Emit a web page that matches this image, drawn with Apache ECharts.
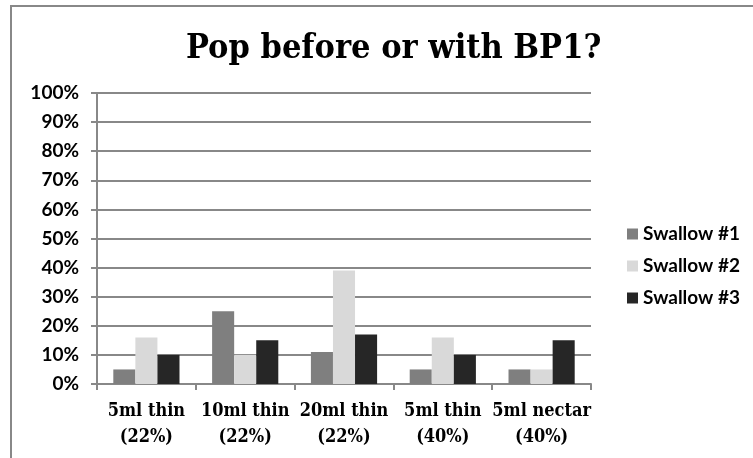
<!DOCTYPE html>
<html><head><meta charset="utf-8">
<script src="https://cdn.jsdelivr.net/npm/echarts@6/dist/echarts.min.js"></script>
<style>html,body{margin:0;padding:0;background:#fff}#c{width:753px;height:458px}</style>
</head><body><div id="c"></div>
<script>
const categories = ['5ml thin\n(22%)', '10ml thin\n(22%)', '20ml thin\n(22%)', '5ml thin\n(40%)', '5ml nectar\n(40%)'];
const swallow1 = [5, 25, 11, 5, 5];
const swallow2 = [16, 10, 39, 16, 5];
const swallow3 = [10, 15, 17, 10, 15];
const seriesNames = ['Swallow #1', 'Swallow #2', 'Swallow #3'];
const colors = ['#7f7f7f', '#d9d9d9', '#262626'];

const chart = echarts.init(document.getElementById('c'));
const serif = '"DejaVu Serif Condensed", "DejaVu Serif", serif';
const sans = 'Lato, "Open Sans", sans-serif';
chart.setOption({
  animation: false,
  backgroundColor: '#fff',
  title: {
    text: 'Pop before or with BP1?',
    left: 181, top: 27,
    textStyle: { fontFamily: serif, fontWeight: 'bold', fontSize: 34, color: '#000' }
  },
  graphic: [{
    type: 'rect', shape: { x: 11, y: 6, width: 760, height: 470 },
    style: { fill: 'none', stroke: '#888', lineWidth: 2 }, silent: true
  }],
  legend: {
    orient: 'vertical', left: 622, top: 219, itemGap: 12,
    itemWidth: 11, itemHeight: 11, icon: 'rect',
    textStyle: { fontFamily: sans, fontWeight: 'bold', fontSize: 19, lineHeight: 20, color: '#000' },
    data: seriesNames
  },
  grid: { left: 97, right: 162, top: 93, bottom: 74 },
  xAxis: {
    type: 'category', data: categories,
    axisLine: { lineStyle: { color: '#888', width: 2 } },
    axisTick: { show: true, length: 6, lineStyle: { color: '#888', width: 2 } },
    axisLabel: { interval: 0, fontFamily: serif, fontWeight: 'bold', fontSize: 18, color: '#000', margin: 14, lineHeight: 26 }
  },
  yAxis: {
    type: 'value', min: 0, max: 100, interval: 10,
    axisLine: { show: true, lineStyle: { color: '#888', width: 2 } },
    axisTick: { show: true, length: 6, lineStyle: { color: '#888', width: 2 } },
    splitLine: { lineStyle: { color: '#888', width: 2 } },
    axisLabel: { formatter: '{value}%', fontFamily: sans, fontWeight: 'bold', fontSize: 19, color: '#000', margin: 18 }
  },
  series: [swallow1, swallow2, swallow3].map((d, i) => ({
    name: seriesNames[i], type: 'bar', data: d,
    barGap: '0%', barCategoryGap: '33%',
    itemStyle: { color: colors[i] }
  }))
});
</script></body></html>
